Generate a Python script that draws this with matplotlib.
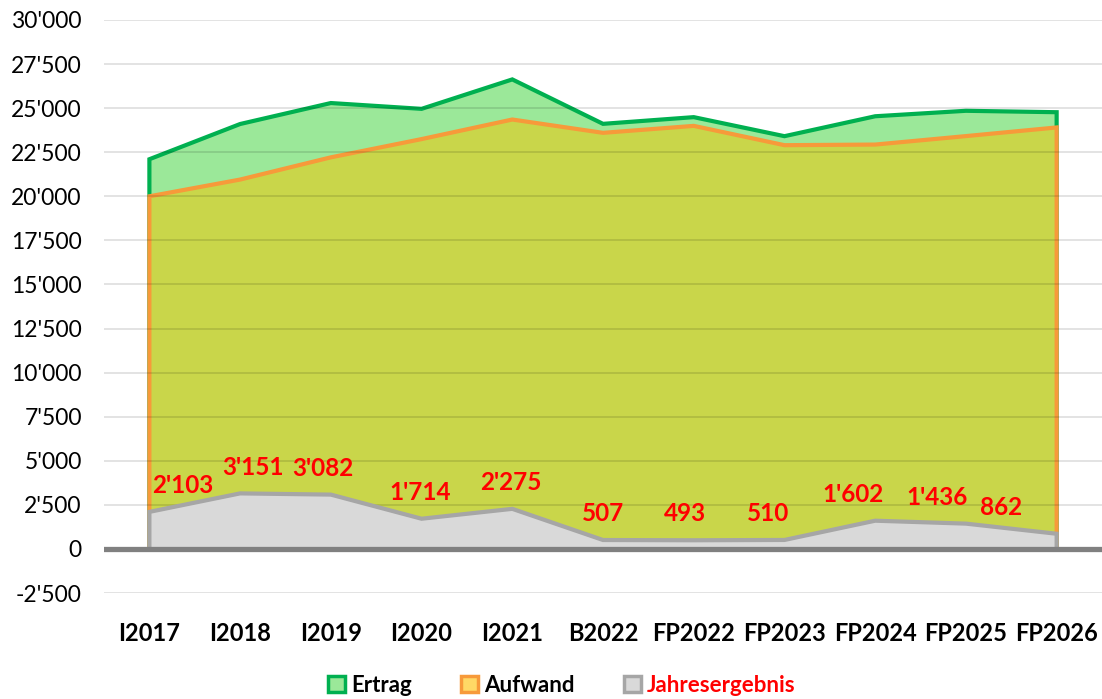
import matplotlib
matplotlib.use("Agg")
import matplotlib.pyplot as plt
from matplotlib.patches import Patch
from matplotlib.ticker import FuncFormatter, MultipleLocator

categories = ["I2017", "I2018", "I2019", "I2020", "I2021", "B2022",
              "FP2022", "FP2023", "FP2024", "FP2025", "FP2026"]
ertrag = [22103, 24100, 25290, 24960, 26630, 24110, 24490, 23410, 24540, 24850, 24770]
aufwand = [20000, 20950, 22210, 23245, 24355, 23600, 23995, 22900, 22935, 23415, 23905]
jahresergebnis = [2103, 3151, 3082, 1714, 2275, 507, 493, 510, 1602, 1436, 862]
label_dx = [24, 9, -6, -1, -1, 0, -6, -12, -16, -21, -40]  # label offsets in points

plt.rcParams['font.family'] = ['Lato', 'DejaVu Sans']

fig = plt.figure(figsize=(11.02, 6.99), dpi=100)
ax = fig.add_axes([0.0944, 0.1516, 0.9056, 0.8198])

x = list(range(len(categories)))

def area(vals, fill, edge, z):
    ax.fill_between(x, 0, vals, color=fill, zorder=z, linewidth=0)
    xs = [x[0]] + x + [x[-1]]
    ys = [0] + list(vals) + [0]
    ax.plot(xs, ys, color=edge, lw=3.0, zorder=z + 0.5, solid_joinstyle='miter')

area(ertrag, "#9BE899", "#00B050", 1)
area(aufwand, "#C9D64A", "#F79A3A", 2)
area(jahresergebnis, "#D9D9D9", "#A6A6A6", 3)

ax.axhline(0, color="#808080", lw=3.8, zorder=5)

ax.set_xlim(-0.5, len(categories) - 0.5)
ax.set_ylim(-2500, 30000)
ax.yaxis.set_major_locator(MultipleLocator(2500))
ax.yaxis.set_major_formatter(FuncFormatter(lambda v, p: f"{int(v):,}".replace(",", "'")))
ax.grid(axis='y', color='black', alpha=0.13, lw=1.2, zorder=2.8)
ax.set_axisbelow(False)
for gl in ax.get_ygridlines():
    gl.set_zorder(3.8)
ax.set_xticks(x)
ax.set_xticklabels(categories, fontsize=17, fontweight='bold')
ax.tick_params(axis='both', length=0)
ax.tick_params(axis='x', pad=21)
ax.tick_params(axis='y', labelsize=16.5, pad=16)
for s in ax.spines.values():
    s.set_visible(False)

for xi, v, dx in zip(x, jahresergebnis, label_dx):
    ax.annotate(f"{v:,}".replace(",", "'"), (xi, v), xytext=(dx, 19),
                textcoords='offset points', ha='center', va='center',
                color='#FF0000', fontsize=17.5, fontweight='bold', zorder=6)

handles = [
    Patch(facecolor="#9BE899", edgecolor="#00B050", lw=2.5),
    Patch(facecolor="#FFD966", edgecolor="#F79A3A", lw=2.5),
    Patch(facecolor="#D9D9D9", edgecolor="#A6A6A6", lw=2.5),
]
leg = fig.legend(handles, ["Ertrag", "Aufwand", "Jahresergebnis"], loc='center',
                 bbox_to_anchor=(0.51, 0.02), ncol=3, frameon=False,
                 prop={'size': 16, 'weight': 'bold'}, handlelength=0.75,
                 handleheight=0.75, handletextpad=0.3, columnspacing=2.2)
leg.get_texts()[2].set_color('#FF0000')

fig.savefig("out.png", dpi=100)
